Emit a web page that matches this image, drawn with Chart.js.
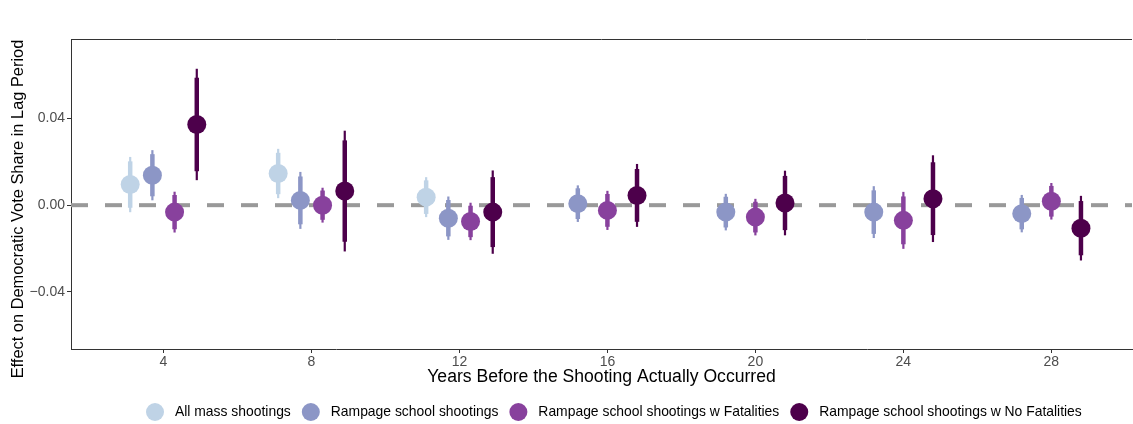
<!DOCTYPE html>
<html>
<head>
<meta charset="utf-8">
<script src="https://cdn.jsdelivr.net/npm/chart.js@4.4.1/dist/chart.umd.min.js"></script>
<style>
  html, body { margin: 0; padding: 0; background: #fff; }
</style>
</head>
<body>
<canvas id="lagChart" width="1133" height="424"></canvas>
<script>
const lags = [4, 8, 12, 16, 20, 24, 28];
const yTicks = [-0.04, 0, 0.04];
const seriesNames = [
  "All mass shootings",
  "Rampage school shootings",
  "Rampage school shootings w Fatalities",
  "Rampage school shootings w No Fatalities"
];
const seriesColors = ["#bfd3e6", "#8c96c6", "#88419d", "#4d004b"];

// point estimates by lag (null = no estimate for that lag)
const estAll      = [0.0095, 0.0146, 0.0037, null, null, null, null];
const estRampage  = [0.0138, 0.0022, -0.0060, 0.0007, -0.0032, -0.0032, -0.0039];
const estFatal    = [-0.0032, 0.0000, -0.0075, -0.0024, -0.0055, -0.0070, 0.0018];
const estNoFatal  = [0.0372, 0.0065, -0.0032, 0.0045, 0.0010, 0.0030, -0.0106];

// standard errors
const seAll       = [0.0065, 0.0058, 0.0047, null, null, null, null];
const seRampage   = [0.0059, 0.0067, 0.0051, 0.0043, 0.0043, 0.0061, 0.0044];
const seFatal     = [0.0048, 0.0041, 0.0044, 0.0046, 0.0043, 0.0067, 0.0043];
const seNoFatal   = [0.0131, 0.0142, 0.0098, 0.0074, 0.0076, 0.0102, 0.0076];

const estimates = [estAll, estRampage, estFatal, estNoFatal];
const errors = [seAll, seRampage, seFatal, seNoFatal];

const Z90 = 1.645, Z95 = 1.96;
const DODGE = 2.4; // total dodge width in years

// x position of series s at lag index i, dodged among the series present there
function dodgeX(s, i) {
  const present = estimates.map((e, k) => e[i] !== null ? k : -1).filter(k => k >= 0);
  const n = present.length;
  const j = present.indexOf(s);
  return lags[i] + (j - (n - 1) / 2) * (DODGE / n);
}

const datasets = estimates.map((est, s) => ({
  label: seriesNames[s],
  data: est.map((v, i) => v === null ? null : { x: dodgeX(s, i), y: v }).filter(p => p),
  backgroundColor: seriesColors[s],
  borderWidth: 0,
  pointRadius: 9.5,
  pointHoverRadius: 9.5
}));

const font = "'Liberation Sans', Arial, sans-serif";
Chart.defaults.font.family = font;

const intervalPlugin = {
  id: "intervals",
  beforeDatasetsDraw(chart) {
    const { ctx, chartArea, scales: { x, y } } = chart;
    ctx.save();
    // reference line at zero
    ctx.strokeStyle = "#999999";
    ctx.lineWidth = 4;
    ctx.setLineDash([17, 17]);
    const y0 = y.getPixelForValue(0);
    ctx.beginPath();
    ctx.moveTo(chartArea.left, y0);
    ctx.lineTo(chartArea.right, y0);
    ctx.stroke();
    ctx.setLineDash([]);

    // 95% (thin) and 90% (thick) intervals
    estimates.forEach((est, s) => {
      ctx.strokeStyle = seriesColors[s];
      est.forEach((v, i) => {
        if (v === null) return;
        const px = x.getPixelForValue(dodgeX(s, i));
        const se = errors[s][i];
        [[Z95, 2.2], [Z90, 4.5]].forEach(([z, w]) => {
          ctx.lineWidth = w;
          ctx.beginPath();
          ctx.moveTo(px, y.getPixelForValue(v + z * se));
          ctx.lineTo(px, y.getPixelForValue(v - z * se));
          ctx.stroke();
        });
      });
    });
    ctx.restore();
  },
  afterDraw(chart) {
    const { ctx, chartArea } = chart;
    ctx.save();
    // top edge of the panel
    ctx.strokeStyle = "#333333";
    ctx.lineWidth = 1;
    ctx.beginPath();
    ctx.moveTo(chartArea.left, chartArea.top + 0.5);
    ctx.lineTo(chartArea.right, chartArea.top + 0.5);
    ctx.stroke();

    // y axis title
    ctx.fillStyle = "#000";
    ctx.font = "16.4px " + font;
    ctx.textAlign = "center";
    ctx.textBaseline = "middle";
    ctx.translate(18, 209);
    ctx.rotate(-Math.PI / 2);
    ctx.fillText("Effect on Democratic Vote Share in Lag Period", 0, 0);
    ctx.setTransform(1, 0, 0, 1, 0, 0);

    // legend
    ctx.font = "13.9px " + font;
    ctx.textAlign = "left";
    let cx = 155;
    const ly = 412;
    seriesNames.forEach((name, s) => {
      ctx.fillStyle = seriesColors[s];
      ctx.beginPath();
      ctx.arc(cx, ly, 9, 0, Math.PI * 2);
      ctx.fill();
      ctx.fillStyle = "#000";
      ctx.fillText(name, cx + 20, ly);
      cx += 20 + ctx.measureText(name).width + 20;
    });
    ctx.restore();
  }
};

new Chart(document.getElementById("lagChart"), {
  type: "scatter",
  data: { datasets },
  plugins: [intervalPlugin],
  options: {
    responsive: false,
    animation: false,
    layout: { autoPadding: false, padding: { top: 39, right: 1, left: 0, bottom: 34 } },
    plugins: { legend: { display: false }, tooltip: { enabled: false } },
    scales: {
      x: {
        type: "linear",
        min: 1.5,
        max: 30.18,
        afterBuildTicks: (scale) => { scale.ticks = lags.map(v => ({ value: v })); },
        afterFit: (scale) => { scale.height = 41; scale.paddingLeft = 0; scale.paddingRight = 0; },
        grid: { drawOnChartArea: false, drawTicks: true, tickLength: 4, color: "#333333" },
        border: { display: true, color: "#333333", width: 1 },
        ticks: { color: "#4d4d4d", font: { size: 14 }, padding: 1, maxRotation: 0 },
        title: {
          display: true,
          text: "Years Before the Shooting Actually Occurred",
          color: "#000",
          font: { size: 17.6 },
          padding: { top: 0, bottom: 2 }
        }
      },
      y: {
        min: -0.0663,
        max: 0.0766,
        afterBuildTicks: (scale) => { scale.ticks = yTicks.map(v => ({ value: v })); },
        afterFit: (scale) => { scale.width = 71; scale.paddingTop = 0; scale.paddingBottom = 0; },
        grid: { drawOnChartArea: false, drawTicks: true, tickLength: 4, color: "#333333" },
        border: { display: true, color: "#333333", width: 1 },
        ticks: {
          color: "#4d4d4d",
          font: { size: 14 },
          padding: 2,
          callback: (v) => (v < 0 ? "\u2212" : "") + Math.abs(v).toFixed(2)
        }
      }
    }
  }
});
</script>
</body>
</html>
